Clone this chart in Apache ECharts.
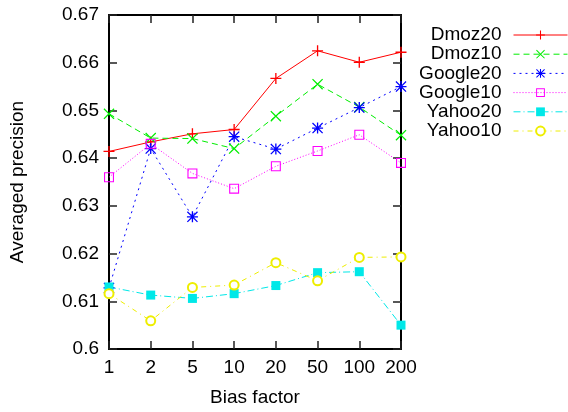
<!DOCTYPE html>
<html><head><meta charset="utf-8">
<script src="https://cdn.jsdelivr.net/npm/echarts@6/dist/echarts.min.js"></script>
<style>html,body{margin:0;padding:0;background:#fff}#c{width:568px;height:412px}</style>
</head><body><div id="c"></div>
<script>
var categories = ['1','2','5','10','20','50','100','200'];
var dmoz20   = [0.6414, 0.6434, 0.6451, 0.6460, 0.6567, 0.6625, 0.6601, 0.6622];
var dmoz10   = [0.6493, 0.6442, 0.6441, 0.6420, 0.6488, 0.6555, 0.6507, 0.6448];
var google20 = [0.6128, 0.6420, 0.6277, 0.6445, 0.6419, 0.6463, 0.6506, 0.6550];
var google10 = [0.6360, 0.6430, 0.6368, 0.6336, 0.6383, 0.6415, 0.6449, 0.6390];
var yahoo20  = [0.6130, 0.6113, 0.6106, 0.6116, 0.6133, 0.6160, 0.6162, 0.6050];
var yahoo10  = [0.6116, 0.6059, 0.6129, 0.6134, 0.6181, 0.6143, 0.6192, 0.6193];
var yTicks = {min: 0.6, max: 0.67, step: 0.01};

var FONT = 'Liberation Sans';
var PLUS = 'path://M4.4,0H5.6V4.4H10V5.6H5.6V10H4.4V5.6H0V4.4H4.4Z';
var CROSS = 'path://M0,0.8L0.8,0L5,4.2L9.2,0L10,0.8L5.8,5L10,9.2L9.2,10L5,5.8L0.8,10L0,9.2L4.2,5Z';
var STAR = 'path://M4.4,0H5.6V4.4H10V5.6H5.6V10H4.4V5.6H0V4.4H4.4Z M0,0.8L0.8,0L5,4.2L9.2,0L10,0.8L5.8,5L10,9.2L9.2,10L5,5.8L0.8,10L0,9.2L4.2,5Z';
var OSQ = 'path://M0,0H10V10H0Z M1.1,1.1V8.9H8.9V1.1Z';

function mk(name, data, color, dash, symbol, size, extra) {
  var s = {
    name: name, type: 'line', data: data, xAxisIndex: 0, yAxisIndex: 0,
    symbol: symbol, symbolSize: size, showSymbol: true,
    lineStyle: {color: color, width: 1, type: dash},
    itemStyle: {color: color, borderWidth: 0},
    emphasis: {disabled: true}
  };
  if (extra) for (var k in extra) s[k] = extra[k];
  return s;
}

var chart = echarts.init(document.getElementById('c'), null, {renderer: 'canvas'});
var axisLine = {show: true, onZero: false, lineStyle: {color: '#000', width: 2}};
var tick = {show: true, inside: true, length: 8, lineStyle: {color: '#222', width: 1.5}};
chart.setOption({
  animation: false,
  backgroundColor: '#fff',
  grid: {left: 109, top: 15, right: 167, bottom: 62, containLabel: false},
  legend: {
    orient: 'vertical', align: 'right', right: 0, top: 25.4,
    itemWidth: 54, itemHeight: 11, itemGap: 0, padding: 0,
    lineStyle: {width: 1},
    textStyle: {fontFamily: FONT, fontSize: 19, lineHeight: 19.2, color: '#000', padding: [0, 7, 0, 0]},
    data: ['Dmoz20','Dmoz10','Google20','Google10','Yahoo20','Yahoo10']
  },
  xAxis: [
    {type: 'category', data: categories, boundaryGap: false, position: 'bottom',
     name: 'Bias factor', nameLocation: 'middle', nameGap: 39,
     nameTextStyle: {fontFamily: FONT, fontSize: 19, color: '#000'},
     axisLine: axisLine, axisTick: Object.assign({interval: 0}, tick),
     axisLabel: {fontFamily: FONT, fontSize: 19, color: '#000', margin: 9, interval: 0},
     splitLine: {show: false}},
    {type: 'category', data: categories, boundaryGap: false, position: 'top',
     axisLine: axisLine, axisTick: Object.assign({interval: 0}, tick),
     axisLabel: {show: false}, splitLine: {show: false}}
  ],
  yAxis: [
    {type: 'value', min: yTicks.min, max: yTicks.max, interval: yTicks.step, position: 'left',
     name: 'Averaged precision', nameLocation: 'middle', nameGap: 82,
     nameTextStyle: {fontFamily: FONT, fontSize: 19, color: '#000'},
     axisLine: axisLine, axisTick: tick,
     axisLabel: {fontFamily: FONT, fontSize: 19, color: '#000', margin: 10,
       formatter: function (v) { return String(Number(v.toFixed(2))); }},
     splitLine: {show: false}},
    {type: 'value', min: yTicks.min, max: yTicks.max, interval: yTicks.step, position: 'right',
     axisLine: axisLine, axisTick: tick, axisLabel: {show: false}, splitLine: {show: false}}
  ],
  series: [
    mk('Dmoz20', dmoz20, '#ff0000', 'solid', PLUS, 11),
    mk('Dmoz10', dmoz10, '#00ee00', [6, 4], CROSS, 11),
    mk('Google20', google20, '#0000ff', [2, 4], STAR, 11),
    mk('Google10', google10, '#ff00ff', [1, 2], OSQ, 10),
    mk('Yahoo20', yahoo20, '#00e8e8', [7, 3, 1, 3], 'rect', 9),
    mk('Yahoo10', yahoo10, '#eeee00', [5, 4, 1, 4], 'emptyCircle', 9,
       {itemStyle: {color: '#eeee00', borderColor: '#eeee00', borderWidth: 1}})
  ]
});
</script>
</body></html>
